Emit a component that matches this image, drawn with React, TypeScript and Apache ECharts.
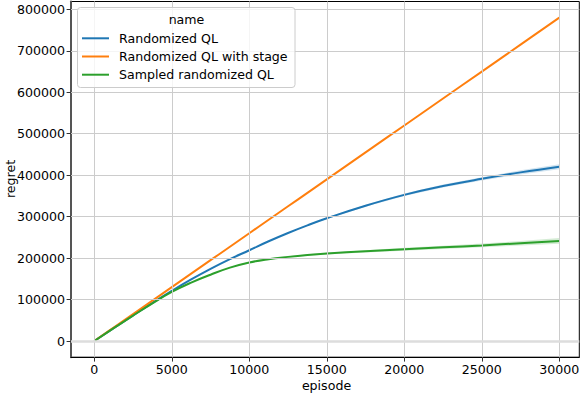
import React, { useEffect, useRef } from "react";
import * as echarts from "echarts";

const episodes = [0, 1250, 2500, 3750, 5000, 6250, 7500, 8750, 10000, 11250, 12500, 13750, 15000, 17500, 20000, 22500, 25000, 27500, 30000];
const randomizedQL = [0, 31000, 62000, 92000, 121000, 148500, 174000, 197500, 219000, 240600, 260600, 279000, 296000, 326400, 352600, 373800, 391300, 406800, 420500];
const randomizedQLStage = [0, 32500, 65000, 97500, 130000, 162500, 195000, 227500, 260000, 292500, 325000, 357500, 390000, 455000, 520000, 585000, 650000, 715000, 780000];
const sampledQL = [0, 31000, 61500, 91000, 118500, 141000, 160000, 177000, 189500, 197500, 203000, 207500, 211000, 216500, 221500, 226000, 230500, 236000, 241500];
const randomizedQLBand = [0, 0, 0, 0, 0, 0, 0, 300, 500, 700, 900, 1200, 1500, 2200, 3000, 3500, 4000, 5000, 6000];
const sampledQLBand = [0, 0, 0, 0, 0, 300, 500, 700, 1000, 1100, 1300, 1600, 2000, 2700, 3500, 4000, 4500, 5500, 7000];

const seriesNames = ["Randomized QL", "Randomized QL with stage", "Sampled randomized QL"];
const colors = ["#1f77b4", "#ff7f0e", "#2ca02c"];
const xTicks = [0, 5000, 10000, 15000, 20000, 25000, 30000];
const yTicks = [0, 100000, 200000, 300000, 400000, 500000, 600000, 700000, 800000];
const legendTitle = "name";
const xAxisTitle = "episode";
const yAxisTitle = "regret";

const FONT = "DejaVu Sans";

export default function App() {
  const ref = useRef<HTMLDivElement>(null);
  useEffect(() => {
    const chart = echarts.init(ref.current!, undefined, { renderer: "svg" });
    const pair = (vals: number[]) => episodes.map((x, i) => [x, vals[i]]);
    const bandSeries = (mean: number[], hw: number[], color: string) => ({
      type: "custom",
      silent: true,
      z: 1,
      data: episodes.map((x, i) => [x, mean[i] - hw[i], mean[i] + hw[i]]),
      renderItem: (params: any, api: any) => {
        if (params.dataIndex !== 0) return null;
        const upper = episodes.map((x, i) => api.coord([x, mean[i] + hw[i]]));
        const lower = episodes.map((x, i) => api.coord([x, mean[i] - hw[i]])).reverse();
        return {
          type: "polygon",
          shape: { points: [...upper, ...lower] },
          style: { fill: color, opacity: 0.2 },
        };
      },
    });
    const lineSeries = (i: number, vals: number[]) => ({
      type: "line",
      name: seriesNames[i],
      smooth: 0.45,
      symbol: "none",
      lineStyle: { color: colors[i], width: 2 },
      data: pair(vals),
      z: 3,
    });
    const legendItems: any[] = [];
    seriesNames.forEach((n, i) => {
      const y = 38.3 + i * 18.2;
      legendItems.push({
        type: "line",
        shape: { x1: 82, y1: y, x2: 109, y2: y },
        style: { stroke: colors[i], lineWidth: 2 },
      });
      legendItems.push({
        type: "text",
        x: 119,
        y,
        style: { text: n, font: `12.6px '${FONT}'`, fill: "#000", verticalAlign: "middle", align: "left" },
      });
    });
    chart.setOption({
      animation: false,
      grid: { left: 71, right: 4.7, top: 1.5, bottom: 36.8, show: true, borderColor: "#000", borderWidth: 1 },
      xAxis: {
        type: "value",
        min: -1503,
        max: 31290,
        axisLine: { show: true, onZero: false, lineStyle: { color: "#000", width: 1 } },
        axisTick: { show: true, customValues: xTicks, length: 4.4, lineStyle: { color: "#333", width: 1 } },
        axisLabel: { customValues: xTicks, formatter: (v: number) => String(v), color: "#000", fontFamily: FONT, fontSize: 12.6, margin: 6 },
        splitLine: { show: false },
      },
      yAxis: {
        type: "value",
        min: -39000,
        max: 819000,
        axisLine: { show: true, onZero: false, lineStyle: { color: "#555", width: 2 } },
        axisTick: { show: true, customValues: yTicks, length: 4.4, lineStyle: { color: "#333", width: 1 } },
        axisLabel: { customValues: yTicks, formatter: (v: number) => String(v), color: "#000", fontFamily: FONT, fontSize: 12.6, margin: 6 },
        splitLine: { show: false },
      },
      series: [
        {
          type: "line",
          data: [],
          silent: true,
          z: 0,
          markLine: {
            silent: true,
            symbol: "none",
            label: { show: false },
            lineStyle: { color: "#cccccc", width: 1, type: "solid" },
            data: [
              ...xTicks.map((v) => ({ xAxis: v })),
              ...yTicks.filter((v) => v !== 0).map((v) => ({ yAxis: v })),
              { yAxis: 0, lineStyle: { color: "#dddddd", width: 2.5 } },
            ],
          },
        },
        bandSeries(randomizedQL, randomizedQLBand, colors[0]),
        bandSeries(sampledQL, sampledQLBand, colors[2]),
        lineSeries(0, randomizedQL),
        lineSeries(1, randomizedQLStage),
        lineSeries(2, sampledQL),
      ],
      graphic: [
        {
          type: "rect",
          shape: { x: 77.5, y: 7.5, width: 217.5, height: 80, r: 3 },
          style: { fill: "rgba(255,255,255,0.8)", stroke: "#cccccc", lineWidth: 1 },
          z: 100,
        },
        {
          type: "text",
          x: 186.5,
          y: 19,
          style: { text: legendTitle, font: `12.6px '${FONT}'`, fill: "#000", align: "center", verticalAlign: "middle" },
          z: 101,
        },
        ...legendItems.map((g) => ({ ...g, z: 101 })),
        {
          type: "text",
          x: 326.5,
          y: 385,
          style: { text: xAxisTitle, font: `12.6px '${FONT}'`, fill: "#000", align: "center", verticalAlign: "middle" },
        },
        {
          type: "text",
          x: 10,
          y: 179,
          rotation: Math.PI / 2,
          style: { text: yAxisTitle, font: `12.6px '${FONT}'`, fill: "#000", align: "center", verticalAlign: "middle" },
        },
      ],
    });
    return () => chart.dispose();
  }, []);
  return <div ref={ref} style={{ width: 584, height: 394, position: "absolute", left: 0, top: 0 }} />;
}
